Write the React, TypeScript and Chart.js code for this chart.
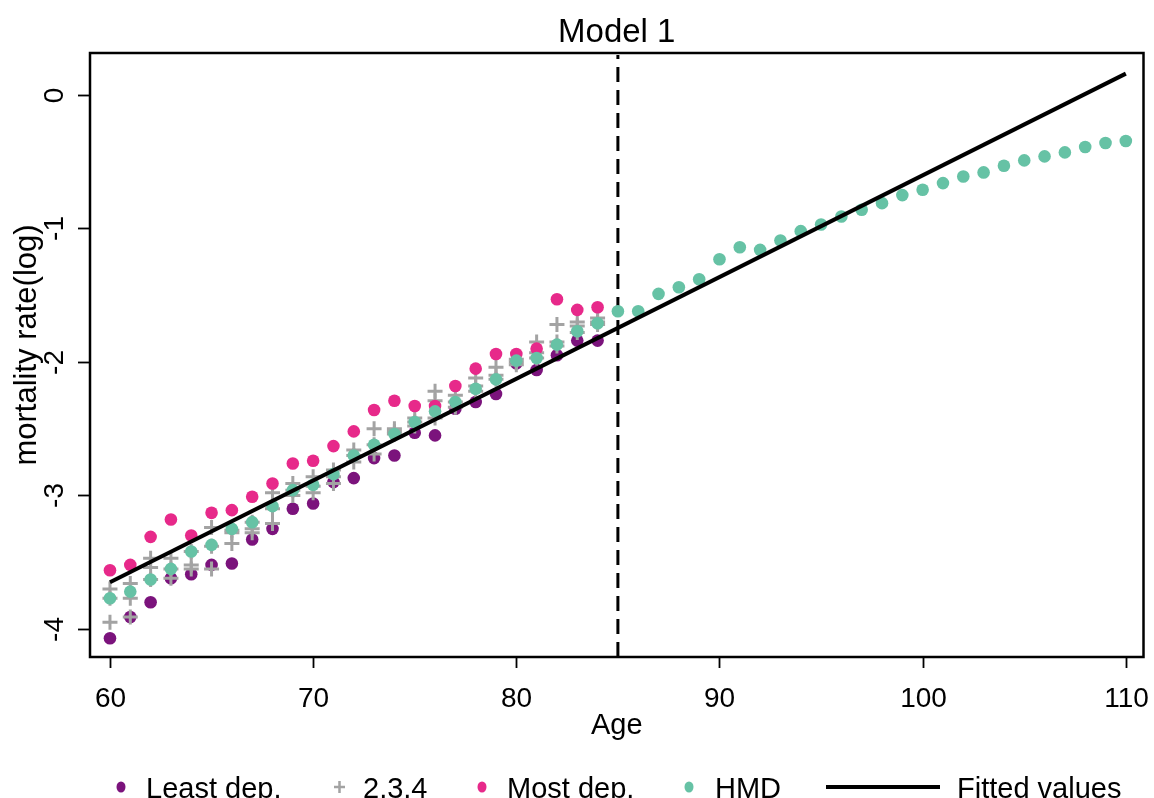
import { useEffect, useRef } from "react";
import { Chart, registerables } from "chart.js";

Chart.register(...registerables);

// Ages covered by the deprivation-group series
const ages = [60, 61, 62, 63, 64, 65, 66, 67, 68, 69, 70, 71, 72, 73, 74, 75, 76, 77, 78, 79, 80, 81, 82, 83, 84];

// Log mortality rate by deprivation group
const leastDep = [-4.07, -3.91, -3.8, -3.62, -3.59, -3.52, -3.51, -3.33, -3.25, -3.1, -3.06, -2.9, -2.87, -2.72, -2.7, -2.53, -2.55, -2.35, -2.3, -2.24, -2.01, -2.06, -1.95, -1.84, -1.84];
const dep2 = [-3.7, -3.66, -3.47, -3.47, -3.42, -3.24, -3.26, -3.2, -2.98, -2.91, -2.86, -2.81, -2.66, -2.5, -2.5, -2.42, -2.22, -2.25, -2.12, -2.04, -1.98, -1.85, -1.72, -1.7, -1.67];
const dep3 = [-3.77, -3.77, -3.54, -3.55, -3.52, -3.38, -3.28, -3.25, -3.1, -2.96, -2.93, -2.86, -2.7, -2.62, -2.52, -2.45, -2.29, -2.3, -2.18, -2.1, -2.0, -1.93, -1.85, -1.73, -1.7];
const dep4 = [-3.95, -3.91, -3.63, -3.62, -3.55, -3.55, -3.36, -3.28, -3.21, -3.0, -2.98, -2.91, -2.75, -2.69, -2.54, -2.48, -2.42, -2.34, -2.22, -2.13, -2.02, -1.97, -1.88, -1.78, -1.72];
const mostDep = [-3.56, -3.52, -3.31, -3.18, -3.3, -3.13, -3.11, -3.01, -2.91, -2.76, -2.74, -2.63, -2.52, -2.36, -2.29, -2.33, -2.33, -2.18, -2.05, -1.94, -1.94, -1.9, -1.53, -1.61, -1.59];

// Human Mortality Database reference, ages 60-110
const hmdAges = [60, 61, 62, 63, 64, 65, 66, 67, 68, 69, 70, 71, 72, 73, 74, 75, 76, 77, 78, 79, 80, 81, 82, 83, 84, 85, 86, 87, 88, 89, 90, 91, 92, 93, 94, 95, 96, 97, 98, 99, 100, 101, 102, 103, 104, 105, 106, 107, 108, 109, 110];
const hmd = [-3.77, -3.72, -3.63, -3.55, -3.42, -3.37, -3.25, -3.2, -3.08, -2.96, -2.92, -2.84, -2.7, -2.62, -2.54, -2.45, -2.37, -2.3, -2.2, -2.13, -1.99, -1.97, -1.87, -1.77, -1.71, -1.62, -1.62, -1.49, -1.44, -1.38, -1.23, -1.14, -1.16, -1.09, -1.02, -0.97, -0.91, -0.86, -0.81, -0.75, -0.71, -0.66, -0.61, -0.58, -0.53, -0.49, -0.46, -0.43, -0.39, -0.36, -0.345];

// Fitted log-linear model
const fittedAges = [60, 110];
const fittedValues = [-3.65, 0.16];

const cutoffAge = 85;
const xTicks = [60, 70, 80, 90, 100, 110];
const yTicks = [0, -1, -2, -3, -4];

const PURPLE = "#7B137C";
const GRAY = "#A3A3A3";
const PINK = "#E7298A";
const TEAL = "#66C2A5";
const FONT = "'Liberation Sans', Arial, sans-serif";

const pts = (xs: number[], ys: number[]) => xs.map((x, i) => ({ x, y: ys[i] }));

const framePlugin = {
  id: "stataFrame",
  beforeDatasetsDraw(chart: any) {
    const { ctx, chartArea: a, scales } = chart;
    const x = scales.x.getPixelForValue(cutoffAge);
    ctx.save();
    ctx.strokeStyle = "#000";
    ctx.lineWidth = 3;
    ctx.setLineDash([15, 8]);
    ctx.beginPath();
    ctx.moveTo(x, a.bottom);
    ctx.lineTo(x, a.top + 2);
    ctx.stroke();
    ctx.restore();
  },
  afterDraw(chart: any) {
    const { ctx, chartArea: a, scales } = chart;
    ctx.save();
    ctx.strokeStyle = "#000";
    ctx.fillStyle = "#000";
    ctx.lineWidth = 2.5;
    ctx.strokeRect(a.left, a.top, a.right - a.left, a.bottom - a.top);

    // x ticks
    ctx.lineWidth = 1.8;
    ctx.font = `28px ${FONT}`;
    ctx.textAlign = "center";
    ctx.textBaseline = "alphabetic";
    xTicks.forEach((v) => {
      const px = Math.round(scales.x.getPixelForValue(v)) + 0.5;
      ctx.beginPath();
      ctx.moveTo(px, a.bottom);
      ctx.lineTo(px, a.bottom + 11);
      ctx.stroke();
      ctx.fillText(String(v), px, 707);
    });

    // y ticks, labels read upward
    yTicks.forEach((v) => {
      const py = Math.round(scales.y.getPixelForValue(v)) + 0.5;
      ctx.beginPath();
      ctx.moveTo(a.left, py);
      ctx.lineTo(a.left - 12, py);
      ctx.stroke();
      ctx.save();
      ctx.translate(63, py);
      ctx.rotate(-Math.PI / 2);
      ctx.fillText(String(v), 0, 0);
      ctx.restore();
    });

    // axis titles
    ctx.font = `29px ${FONT}`;
    ctx.fillText("Age", (a.left + a.right) / 2, 734);
    ctx.save();
    ctx.translate(36, (a.top + a.bottom) / 2 - 10);
    ctx.rotate(-Math.PI / 2);
    ctx.font = `31px ${FONT}`;
    ctx.fillText("mortality rate(log)", 0, 0);
    ctx.restore();

    // title
    ctx.font = `33px ${FONT}`;
    ctx.fillText("Model 1", (a.left + a.right) / 2, 42);

    // legend
    const ly = 787;
    const base = 798;
    ctx.font = `29px ${FONT}`;
    ctx.textAlign = "left";
    const dot = (cx: number, color: string) => {
      ctx.fillStyle = color;
      ctx.beginPath();
      ctx.ellipse(cx, ly, 4.5, 5.5, 0, 0, Math.PI * 2);
      ctx.fill();
    };
    dot(121, PURPLE);
    ctx.fillStyle = "#000";
    ctx.fillText("Least dep.", 146, base);

    ctx.strokeStyle = GRAY;
    ctx.lineWidth = 2.5;
    ctx.beginPath();
    ctx.moveTo(334, ly);
    ctx.lineTo(345, ly);
    ctx.moveTo(339.5, ly - 6);
    ctx.lineTo(339.5, ly + 6);
    ctx.stroke();
    ctx.fillStyle = "#000";
    ctx.fillText("2,3,4", 363, base);

    dot(482, PINK);
    ctx.fillStyle = "#000";
    ctx.fillText("Most dep.", 507, base);

    dot(689, TEAL);
    ctx.fillStyle = "#000";
    ctx.fillText("HMD", 715, base);

    ctx.strokeStyle = "#000";
    ctx.lineWidth = 4;
    ctx.beginPath();
    ctx.moveTo(826, ly);
    ctx.lineTo(940, ly);
    ctx.stroke();
    ctx.fillText("Fitted values", 957, base);
    ctx.restore();
  },
};

export default function App() {
  const ref = useRef<HTMLCanvasElement | null>(null);

  useEffect(() => {
    document.body.style.margin = "0";
    if (!ref.current) return;
    const dot = (color: string) => ({
      pointStyle: "circle" as const,
      pointRadius: 6.3,
      pointBackgroundColor: color,
      pointBorderWidth: 0,
      borderColor: color,
      backgroundColor: color,
      showLine: false,
    });
    const cross = (label: string, values: number[]) => ({
      label,
      data: pts(ages, values),
      pointStyle: "cross" as const,
      pointRadius: 7.5,
      pointBorderWidth: 3,
      borderColor: GRAY,
      pointBorderColor: GRAY,
      backgroundColor: GRAY,
      showLine: false,
      order: 3,
    });
    const chart = new Chart(ref.current, {
      type: "scatter",
      data: {
        datasets: [
          { label: "Least dep.", data: pts(ages, leastDep), ...dot(PURPLE), order: 4 },
          cross("2", dep2),
          cross("3", dep3),
          cross("4", dep4),
          { label: "Most dep.", data: pts(ages, mostDep), ...dot(PINK), order: 2 },
          { label: "HMD", data: pts(hmdAges, hmd), ...dot(TEAL), order: 1 },
          {
            label: "Fitted values",
            data: pts(fittedAges, fittedValues),
            showLine: true,
            borderColor: "#000",
            borderWidth: 4,
            pointRadius: 0,
            fill: false,
            order: 0,
          },
        ],
      },
      options: {
        animation: false,
        responsive: false,
        events: [],
        layout: { padding: { left: 90, top: 53, right: 9, bottom: 141 } },
        plugins: { legend: { display: false }, tooltip: { enabled: false }, title: { display: false } },
        scales: {
          x: { type: "linear", min: 59.017, max: 110.87, display: false },
          y: { type: "linear", min: -4.21, max: 0.3146, display: false },
        },
      },
      plugins: [framePlugin],
    });
    return () => chart.destroy();
  }, []);

  return (
    <div style={{ width: 1154, height: 798, background: "#fff" }}>
      <canvas ref={ref} width={1154} height={798} style={{ display: "block" }} />
    </div>
  );
}
